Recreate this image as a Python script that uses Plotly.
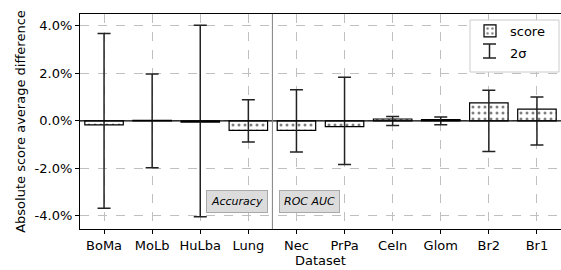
import plotly.graph_objects as go

categories = ["BoMa", "MoLb", "HuLba", "Lung", "Nec", "PrPa", "CeIn", "Glom", "Br2", "Br1"]
score = [-0.17, 0.02, -0.05, -0.40, -0.40, -0.24, 0.08, 0.05, 0.76, 0.50]
two_sigma = [3.68, 1.97, 4.03, 0.89, 1.31, 1.84, 0.19, 0.16, 1.29, 1.01]
zeros = [0.0] * len(categories)
ytick_vals = [-4, -2, 0, 2, 4]
ytick_text = ["-4.0%", "-2.0%", "0.0%", "2.0%", "4.0%"]
metric_labels = ["Accuracy", "ROC AUC"]

font = "DejaVu Sans"
L, R, T, B = 80, 561, 14, 229  # plot area in pixels
W, H = R - L, B - T


def px(x):
    return (x - L) / W


def py(y):
    return (B - y) / H


fig = go.Figure()
fig.add_trace(go.Bar(
    x=categories, y=score, name="score", width=0.8, legendgroup="a",
    marker=dict(color="white", line=dict(color="black", width=1.2),
                pattern=dict(shape=".", fgcolor="black", bgcolor="white", size=6, solidity=0.2)),
))
fig.add_trace(go.Scatter(
    x=categories, y=zeros, mode="markers", name="2σ",
    marker=dict(size=0.1, color="#222"),
    error_y=dict(type="data", array=two_sigma, visible=True, color="#222", thickness=1.5, width=6.5),
    showlegend=False,
))
fig.add_trace(go.Scatter(
    x=[None], y=[None], mode="markers", name="2σ", legendgroup="b",
    marker=dict(size=1, color="rgba(0,0,0,0)"),
))

fig.add_hline(y=0, line=dict(color="black", width=1.2))
fig.add_vline(x=3.5, line=dict(color="#808080", width=1))

# legend frame
fig.add_shape(type="rect", xref="paper", yref="paper", x0=px(470), x1=px(559), y0=py(72), y1=py(20),
              fillcolor="white", line=dict(color="#cccccc", width=1), layer="above")
# I-beam legend glyph for 2σ
ib = dict(color="#222", width=1.5)
fig.add_shape(type="line", xref="paper", yref="paper", x0=px(489.5), x1=px(489.5), y0=py(44), y1=py(58), line=ib)
fig.add_shape(type="line", xref="paper", yref="paper", x0=px(483), x1=px(496), y0=py(44), y1=py(44), line=ib)
fig.add_shape(type="line", xref="paper", yref="paper", x0=px(483), x1=px(496), y0=py(58), y1=py(58), line=ib)

for lab, xp in zip(metric_labels, [2.77, 4.27]):
    fig.add_annotation(x=xp, y=-3.38, text="<i>" + lab + "</i>", showarrow=False,
                       font=dict(family=font, size=11, color="black"),
                       bgcolor="#dcdcdc", bordercolor="#a8a8a8", borderwidth=1, borderpad=4)

fig.update_layout(
    width=561, height=270,
    margin=dict(l=L, r=561 - R, t=T, b=270 - B),
    plot_bgcolor="white", paper_bgcolor="white",
    font=dict(family=font, size=13, color="black"),
    bargap=0.2,
    legend=dict(x=px(470), y=py(16), xanchor="left", yanchor="top",
                bgcolor="rgba(0,0,0,0)", borderwidth=0,
                tracegroupgap=2,
                font=dict(family=font, size=13)),
    xaxis=dict(range=[-0.5, 9.5], showline=True, linecolor="black", linewidth=1.2,
               mirror=True, ticks="outside", ticklen=4, tickcolor="black",
               showgrid=True, gridcolor="#c0c0c0", griddash="dash", gridwidth=0.8,
               title=dict(text="Dataset", standoff=0, font=dict(size=13))),
    yaxis=dict(range=[-4.55, 4.5], tickvals=ytick_vals, ticktext=ytick_text,
               showline=True, linecolor="black", linewidth=1.2, mirror=False,
               ticks="outside", ticklen=4, tickcolor="black",
               showgrid=True, gridcolor="#c0c0c0", griddash="dash", gridwidth=0.8,
               zeroline=False,
               title=dict(text="Absolute score average difference", standoff=6, font=dict(size=13))),
)
fig.write_html("out.html", config={"displayModeBar": False},
               post_script="document.body.style.margin='0';")
